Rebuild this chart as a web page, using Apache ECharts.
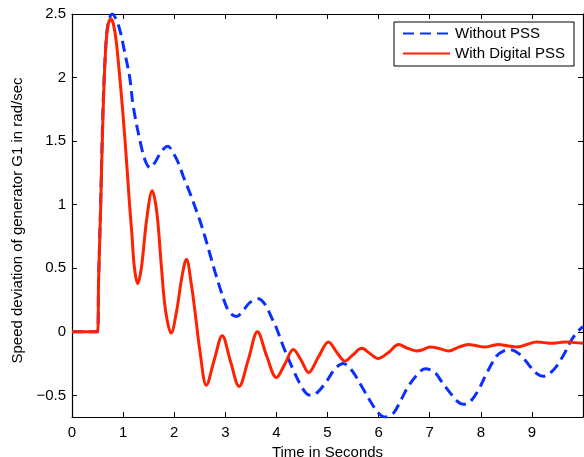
<!DOCTYPE html>
<html>
<head>
<meta charset="utf-8">
<script src="https://cdn.jsdelivr.net/npm/echarts@6/dist/echarts.min.js"></script>
<style>
html,body{margin:0;padding:0;background:#fff;}
#c{width:584px;height:457px;}
</style>
</head>
<body>
<div id="c"></div>
<script>
// Categories / series names
var seriesNames = ['Without PSS', 'With Digital PSS'];
// Tick values
var xTicks = [0, 1, 2, 3, 4, 5, 6, 7, 8, 9];
var yTicks = [-0.5, 0, 0.5, 1, 1.5, 2, 2.5];

// Without PSS: time (s) and speed deviation (rad/s)
var withoutT = [0, 0.5, 0.52, 0.56, 0.61, 0.67, 0.72, 0.79, 0.86, 0.94, 1.03, 1.13, 1.2, 1.36, 1.45, 1.53, 1.62, 1.72, 1.82, 1.88, 1.96, 2.08, 2.18, 2.3, 2.41, 2.5, 2.6, 2.7, 2.8, 2.9, 3.03, 3.12, 3.22, 3.35, 3.48, 3.65, 3.75, 3.84, 3.92, 4.0, 4.14, 4.33, 4.49, 4.6, 4.69, 4.82, 4.98, 5.15, 5.31, 5.47, 5.67, 5.86, 6.0, 6.13, 6.29, 6.42, 6.58, 6.75, 6.91, 7.1, 7.23, 7.4, 7.55, 7.66, 7.79, 7.95, 8.11, 8.31, 8.45, 8.57, 8.77, 8.96, 9.1, 9.22, 9.42, 9.61, 9.78, 9.94, 10];
var withoutV = [0, 0, 0.4, 1.0, 1.8, 2.3, 2.45, 2.5, 2.46, 2.37, 2.2, 2.0, 1.77, 1.45, 1.33, 1.29, 1.33, 1.40, 1.45, 1.46, 1.42, 1.33, 1.22, 1.1, 0.98, 0.88, 0.75, 0.61, 0.47, 0.34, 0.19, 0.14, 0.12, 0.17, 0.23, 0.26, 0.23, 0.17, 0.1, 0.03, -0.12, -0.3, -0.43, -0.49, -0.5, -0.47, -0.39, -0.29, -0.25, -0.3, -0.43, -0.56, -0.64, -0.67, -0.64, -0.55, -0.43, -0.34, -0.29, -0.32, -0.39, -0.48, -0.55, -0.57, -0.55, -0.46, -0.33, -0.19, -0.15, -0.14, -0.18, -0.27, -0.33, -0.35, -0.3, -0.19, -0.06, 0.02, 0.04];

// With Digital PSS
var withT = [0, 0.5, 0.52, 0.56, 0.61, 0.665, 0.71, 0.76, 0.81, 0.87, 0.99, 1.08, 1.13, 1.17, 1.22, 1.285, 1.36, 1.46, 1.57, 1.66, 1.75, 1.83, 1.94, 2.05, 2.15, 2.24, 2.34, 2.41, 2.5, 2.63, 2.785, 2.94, 3.1, 3.27, 3.45, 3.63, 3.81, 4.0, 4.17, 4.33, 4.48, 4.63, 4.82, 5.02, 5.18, 5.34, 5.5, 5.67, 5.83, 5.99, 6.2, 6.39, 6.57, 6.74, 6.87, 7.0, 7.18, 7.37, 7.57, 7.76, 7.92, 8.08, 8.21, 8.34, 8.52, 8.7, 8.9, 9.09, 9.25, 9.38, 9.53, 9.68, 9.85, 10];
var withV = [0, 0, 0.4, 0.96, 1.75, 2.27, 2.42, 2.46, 2.42, 2.27, 1.75, 1.27, 0.98, 0.78, 0.51, 0.38, 0.51, 0.88, 1.11, 0.94, 0.51, 0.17, -0.01, 0.17, 0.43, 0.57, 0.36, 0.15, -0.14, -0.42, -0.22, -0.03, -0.23, -0.43, -0.22, 0.0, -0.19, -0.36, -0.25, -0.14, -0.22, -0.32, -0.2, -0.08, -0.16, -0.23, -0.18, -0.13, -0.17, -0.21, -0.16, -0.1, -0.13, -0.15, -0.14, -0.12, -0.13, -0.15, -0.12, -0.1, -0.11, -0.12, -0.11, -0.1, -0.11, -0.12, -0.1, -0.08, -0.085, -0.09, -0.085, -0.08, -0.085, -0.09];

function pairs(t, v) { return t.map(function (x, i) { return [x, v[i]]; }); }
function fmt(v) { return String(v).replace('-', '\u2212'); }

var FONT = 'Liberation Sans, Arial, Helvetica, sans-serif';
var axisLineStyle = { show: true, onZero: false, lineStyle: { color: '#000', width: 1.2 } };

var chart = echarts.init(document.getElementById('c'), null, { renderer: 'canvas' });
chart.setOption({
  animation: false,
  backgroundColor: '#fff',
  grid: { left: 72, right: 1, top: 14, bottom: 40, containLabel: false, outerBoundsMode: 'none' },
  legend: {
    data: seriesNames,
    orient: 'vertical',
    left: 394,
    top: 22,
    backgroundColor: '#fff',
    borderColor: '#000',
    borderWidth: 1,
    borderRadius: 0,
    padding: [4, 9, 5, 8],
    itemWidth: 47,
    itemHeight: 14,
    itemGap: 5,
    itemStyle: { opacity: 0 },
    textStyle: { fontFamily: FONT, fontSize: 15, color: '#000' }
  },
  xAxis: [{
    type: 'value', min: 0, max: 10, position: 'bottom',
    name: 'Time in Seconds', nameLocation: 'middle', nameGap: 24,
    nameTextStyle: { fontFamily: FONT, fontSize: 15, color: '#000' },
    axisLine: axisLineStyle,
    axisTick: { show: true, inside: true, length: 5, customValues: xTicks, lineStyle: { color: '#000' } },
    axisLabel: { show: true, customValues: xTicks, margin: 8, fontFamily: FONT, fontSize: 15, color: '#000', formatter: fmt },
    splitLine: { show: false }
  }, {
    type: 'value', min: 0, max: 10, position: 'top',
    axisLine: axisLineStyle,
    axisTick: { show: true, inside: true, length: 5, customValues: xTicks, lineStyle: { color: '#000' } },
    axisLabel: { show: false },
    splitLine: { show: false }
  }],
  yAxis: [{
    type: 'value', min: -0.67, max: 2.5, position: 'left',
    name: 'Speed deviation of generator G1 in rad/sec', nameLocation: 'middle', nameGap: 44,
    nameTextStyle: { fontFamily: FONT, fontSize: 15, color: '#000', padding: [0, 10, 0, 0] },
    axisLine: axisLineStyle,
    axisTick: { show: true, inside: true, length: 5, customValues: yTicks, lineStyle: { color: '#000' } },
    axisLabel: { show: true, customValues: yTicks, margin: 6, fontFamily: FONT, fontSize: 15, color: '#000', formatter: fmt },
    splitLine: { show: false }
  }, {
    type: 'value', min: -0.67, max: 2.5, position: 'right',
    axisLine: axisLineStyle,
    axisTick: { show: true, inside: true, length: 5, customValues: yTicks, lineStyle: { color: '#000' } },
    axisLabel: { show: false },
    splitLine: { show: false }
  }],
  series: [{
    name: seriesNames[0], type: 'line', xAxisIndex: 0, yAxisIndex: 0,
    data: pairs(withoutT, withoutV),
    smooth: 0.35, symbol: 'none', showSymbol: false,
    color: '#0a30ff',
    lineStyle: { color: '#0a30ff', width: 3, type: [11, 6] },
    z: 2
  }, {
    name: seriesNames[1], type: 'line', xAxisIndex: 0, yAxisIndex: 0,
    data: pairs(withT, withV),
    smooth: 0.35, symbol: 'none', showSymbol: false,
    color: '#ff2200',
    lineStyle: { color: '#ff2200', width: 3 },
    z: 3
  }]
});
</script>
</body>
</html>
